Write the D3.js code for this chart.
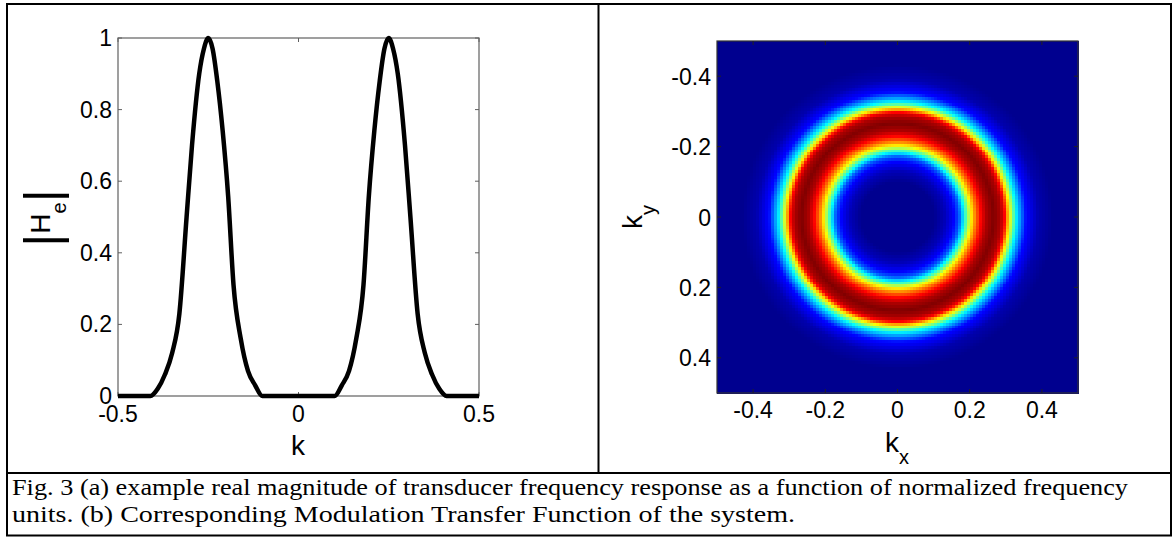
<!DOCTYPE html>
<html><head><meta charset="utf-8">
<script src="https://cdn.jsdelivr.net/npm/d3@7"></script>
<style>body{margin:0;background:#fff}</style>
</head><body><svg id="c" width="1176" height="538"></svg>
<script>
// ---- data ----
const kValues  = [-0.5, -0.41, -0.39, -0.37, -0.35, -0.33, -0.31, -0.295, -0.275, -0.262, -0.25, -0.238, -0.225, -0.21, -0.195, -0.18, -0.16, -0.14, -0.12, -0.10,
                   0.10, 0.12, 0.14, 0.16, 0.18, 0.195, 0.21, 0.225, 0.238, 0.25, 0.262, 0.275, 0.295, 0.31, 0.33, 0.35, 0.37, 0.39, 0.41, 0.5];
const heValues = [0, 0, 0.02, 0.06, 0.12, 0.23, 0.50, 0.70, 0.90, 0.97, 1.0, 0.97, 0.88, 0.74, 0.56, 0.31, 0.16, 0.07, 0.03, 0,
                  0, 0.03, 0.07, 0.16, 0.31, 0.56, 0.74, 0.88, 0.97, 1.0, 0.97, 0.90, 0.70, 0.50, 0.23, 0.12, 0.06, 0.02, 0, 0];
const xTicksA = [-0.5, 0, 0.5];
const yTicksA = [0, 0.2, 0.4, 0.6, 0.8, 1];
const xTickLabelsA = ["-0.5", "0", "0.5"];
const yTickLabelsA = ["0", "0.2", "0.4", "0.6", "0.8", "1"];

// radial profile of the MTF ring (radius in k units -> level 0..1)
const ringRadius = [0, 0.10, 0.13, 0.155, 0.17, 0.183, 0.202, 0.216, 0.23, 0.245, 0.265, 0.285, 0.296, 0.307, 0.327, 0.355, 0.39, 0.43, 0.75];
const ringLevel  = [0, 0, 0.04, 0.11, 0.20, 0.36, 0.61, 0.75, 0.86, 0.95, 1.0, 0.95, 0.86, 0.65, 0.36, 0.12, 0.03, 0, 0];
const ticksB = [-0.4, -0.2, 0, 0.2, 0.4];
const tickLabelsB = ["-0.4", "-0.2", "0", "0.2", "0.4"];
const gridSize = 120;

const jetStops  = [0, 0.11, 0.36, 0.61, 0.86, 1];
const jetColors = ["#00008f", "#0000ff", "#00ffff", "#ffff00", "#ff0000", "#800000"];

const captionLines = [
  "Fig. 3 (a) example real magnitude of transducer frequency response as a function of normalized frequency",
  "units. (b) Corresponding Modulation Transfer Function of the system."
];
const captionWidths = [1116, 783];

// ---- drawing ----
const svg = d3.select("#c");
svg.append("rect").attr("width",1176).attr("height",538).attr("fill","#fff");
const SANS = "'Liberation Sans', Arial, sans-serif";
const SERIF = "'Liberation Serif', 'Times New Roman', serif";

// ===== Panel (a) =====
const xA = d3.scaleLinear().domain([-0.5, 0.5]).range([118, 479]);
const yA = d3.scaleLinear().domain([0, 1]).range([396, 38]);
const gA = svg.append("g");
gA.append("rect").attr("x",xA(-0.5)).attr("y",yA(1)).attr("width",xA(0.5)-xA(-0.5)).attr("height",yA(0)-yA(1))
  .attr("fill","none").attr("stroke","#606060").attr("stroke-width",1.2);
xTicksA.forEach(t=>{
  gA.append("line").attr("x1",xA(t)).attr("x2",xA(t)).attr("y1",yA(0)).attr("y2",yA(0)-4).attr("stroke","#606060");
  gA.append("line").attr("x1",xA(t)).attr("x2",xA(t)).attr("y1",yA(1)).attr("y2",yA(1)+4).attr("stroke","#606060");
});
yTicksA.forEach(t=>{
  gA.append("line").attr("x1",xA(-0.5)).attr("x2",xA(-0.5)+4).attr("y1",yA(t)).attr("y2",yA(t)).attr("stroke","#606060");
  gA.append("line").attr("x1",xA(0.5)).attr("x2",xA(0.5)-4).attr("y1",yA(t)).attr("y2",yA(t)).attr("stroke","#606060");
});
xTicksA.forEach((t,i)=>{
  gA.append("text").attr("x",xA(t)).attr("y",422).attr("text-anchor","middle")
    .attr("font-family",SANS).attr("font-size",23).attr("fill","#000").text(xTickLabelsA[i]);
});
yTicksA.forEach((t,i)=>{
  gA.append("text").attr("x",112).attr("y",yA(t)+8).attr("text-anchor","end")
    .attr("font-family",SANS).attr("font-size",23).attr("fill","#000").text(yTickLabelsA[i]);
});
const ptsA = kValues.map((k,i)=>[k, heValues[i]]);
gA.append("path").datum(ptsA)
  .attr("d", d3.line().x(d=>xA(d[0])).y(d=>yA(d[1])).curve(d3.curveMonotoneX))
  .attr("fill","none").attr("stroke","#000").attr("stroke-width",4.5).attr("stroke-linejoin","round");
gA.append("text").attr("x",298).attr("y",455).attr("text-anchor","middle")
  .attr("font-family",SANS).attr("font-size",28).text("k");
const yl = gA.append("text").attr("transform","translate(50,218) rotate(-90)").attr("text-anchor","middle")
  .attr("font-family",SANS).attr("fill","#000");
yl.append("tspan").attr("font-size",50).attr("font-weight",300).attr("dy",9).text("|");
yl.append("tspan").attr("font-size",28).attr("dy",-9).text("H");
yl.append("tspan").attr("font-size",20).attr("dy",16).text("e");
yl.append("tspan").attr("font-size",50).attr("font-weight",300).attr("dy",-7).text("|");

// ===== Panel (b) =====
const xB = d3.scaleLinear().domain([-0.5, 0.5]).range([717, 1078]);
const yB = d3.scaleLinear().domain([-0.5, 0.5]).range([41, 393]);
const level = d3.scaleLinear().domain(ringRadius).range(ringLevel).clamp(true);
const jet = d3.scaleLinear().domain(jetStops).range(jetColors).interpolate(d3.interpolateRgb).clamp(true);
const step = 1 / gridSize;
const cells = [];
d3.range(gridSize).forEach(j=>{
  d3.range(gridSize).forEach(i=>{
    const kx = -0.5 + (i + 0.5) * step, ky = -0.5 + (j + 0.5) * step;
    cells.push({x0: -0.5 + i*step, y0: -0.5 + j*step, v: level(Math.hypot(kx, ky))});
  });
});
const gB = svg.append("g");
gB.append("g").attr("shape-rendering","crispEdges").selectAll("rect").data(cells).join("rect")
  .attr("x", d=>xB(d.x0)).attr("y", d=>yB(d.y0))
  .attr("width", xB(step)-xB(0)+0.6).attr("height", yB(step)-yB(0)+0.6)
  .attr("fill", d=>jet(d.v));
gB.append("rect").attr("x",xB(-0.5)).attr("y",yB(-0.5)).attr("width",xB(0.5)-xB(-0.5)).attr("height",yB(0.5)-yB(-0.5))
  .attr("fill","none").attr("stroke","#333").attr("stroke-width",1.2);
ticksB.forEach(t=>{
  gB.append("line").attr("x1",xB(t)).attr("x2",xB(t)).attr("y1",yB(0.5)).attr("y2",yB(0.5)-4).attr("stroke","#222");
  gB.append("line").attr("x1",xB(t)).attr("x2",xB(t)).attr("y1",yB(-0.5)).attr("y2",yB(-0.5)+4).attr("stroke","#222");
  gB.append("line").attr("x1",xB(-0.5)).attr("x2",xB(-0.5)+4).attr("y1",yB(t)).attr("y2",yB(t)).attr("stroke","#222");
  gB.append("line").attr("x1",xB(0.5)).attr("x2",xB(0.5)-4).attr("y1",yB(t)).attr("y2",yB(t)).attr("stroke","#222");
});
ticksB.forEach((t,i)=>{
  gB.append("text").attr("x",xB(t)).attr("y",418).attr("text-anchor","middle")
    .attr("font-family",SANS).attr("font-size",23).text(tickLabelsB[i]);
  gB.append("text").attr("x",711).attr("y",yB(t)+8.5).attr("text-anchor","end")
    .attr("font-family",SANS).attr("font-size",23).text(tickLabelsB[i]);
});
const kxl = gB.append("text").attr("x",897).attr("y",452).attr("text-anchor","middle").attr("font-family",SANS);
kxl.append("tspan").attr("font-size",28).text("k");
kxl.append("tspan").attr("font-size",20).attr("dy",12).text("x");
const kyl = gB.append("text").attr("transform","translate(642,217) rotate(-90)").attr("text-anchor","middle").attr("font-family",SANS);
kyl.append("tspan").attr("font-size",28).text("k");
kyl.append("tspan").attr("font-size",20).attr("dy",13).text("y");

// ===== frame & caption =====
const frame = svg.append("g").attr("stroke","#000").attr("stroke-width",2).attr("fill","none");
frame.append("rect").attr("x",7).attr("y",4).attr("width",1164).attr("height",531.5);
frame.append("line").attr("x1",7).attr("x2",1171).attr("y1",473).attr("y2",473);
frame.append("line").attr("x1",598.5).attr("x2",598.5).attr("y1",4).attr("y2",473);
captionLines.forEach((s,i)=>{
  svg.append("text").attr("x",12).attr("y",495 + i*27).attr("font-family",SERIF).attr("font-size",24)
    .attr("textLength",captionWidths[i]).attr("lengthAdjust","spacingAndGlyphs")
    .attr("fill","#000").text(s);
});
</script></body></html>
